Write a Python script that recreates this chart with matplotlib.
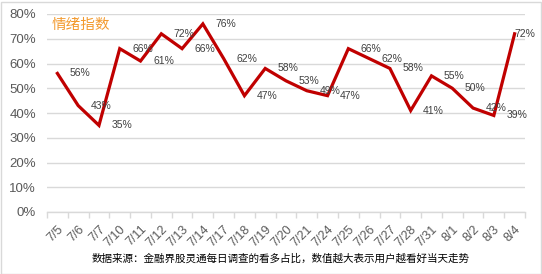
import matplotlib

matplotlib.use("Agg")
import matplotlib.pyplot as plt
from matplotlib.ticker import FixedLocator, PercentFormatter
from matplotlib.patches import Rectangle

plt.rcParams["font.family"] = ["Liberation Sans", "Noto Sans CJK SC", "DejaVu Sans"]

dates = ["7/5", "7/6", "7/7", "7/10", "7/11", "7/12", "7/13", "7/14", "7/17", "7/18",
         "7/19", "7/20", "7/21", "7/24", "7/25", "7/26", "7/27", "7/28", "7/31", "8/1",
         "8/2", "8/3", "8/4"]
sentiment = [56, 43, 35, 66, 61, 72, 66, 76, 62, 47, 58, 53, 49, 47, 66, 62, 58, 41,
             55, 50, 42, 39, 72]
y_ticks = [0, 10, 20, 30, 40, 50, 60, 70, 80]
title_text = "情绪指数"
caption = "数据来源：金融界股灵通每日调查的看多占比，数值越大表示用户越看好当天走势"

W, H = 542, 274
fig = plt.figure(figsize=(W / 100, H / 100), dpi=100, facecolor="white")
ax = fig.add_axes([47 / W, 1 - 212 / H, 478 / W, 198 / H])

x = list(range(len(dates)))
ax.plot(x, sentiment, color="#C00000", linewidth=2.3, solid_joinstyle="miter", zorder=3)
for xi, v in zip(x, sentiment):
    # the last label sits against the plot edge, so it hugs its point
    dx = 0 if xi == x[-1] else 9
    ax.annotate(f"{v}%", (xi, v), xytext=(dx, 0), textcoords="offset points",
                ha="left", va="center", fontsize=7.5, color="#404040",
                annotation_clip=False, zorder=4)

ax.set_xlim(-0.5, len(dates) - 0.5)
ax.set_ylim(0, 80)
ax.set_yticks(y_ticks)
ax.yaxis.set_major_formatter(PercentFormatter(decimals=0))
ax.grid(axis="y", color="#D9D9D9", linewidth=1.0)
ax.set_axisbelow(True)

ax.set_xticks(x)
ax.set_xticklabels(dates, rotation=45, ha="right", rotation_mode="anchor")
ax.xaxis.set_minor_locator(FixedLocator([i - 0.5 for i in range(len(dates) + 1)]))
ax.tick_params(axis="x", which="major", length=0, pad=8, labelsize=9, labelcolor="#595959")
ax.tick_params(axis="x", which="minor", length=4, color="#D9D9D9", width=1.0)
ax.tick_params(axis="y", length=0, pad=8, labelsize=9.5, labelcolor="#595959")

for side in ["top", "right", "left"]:
    ax.spines[side].set_visible(False)
ax.spines["bottom"].set_color("#D9D9D9")
ax.spines["bottom"].set_linewidth(1.0)

ax.text(0.01, 0.945, title_text, transform=ax.transAxes, fontsize=10.5,
        color="#F39A2E", ha="left", va="center",
        family=["Noto Sans CJK SC", "DejaVu Sans"])

fig.text(281 / W, 1 - 259 / H, caption, ha="center", va="center", fontsize=7.6,
         color="black", family=["Noto Sans CJK SC", "DejaVu Sans"])

fig.patches.append(Rectangle((0.5 / W, 0.5 / H), 1 - 2 / W, 1 - 2 / H,
                             transform=fig.transFigure, fill=False,
                             edgecolor="#D9D9D9", linewidth=1.0))

fig.savefig("out.png", dpi=100, facecolor="white")
